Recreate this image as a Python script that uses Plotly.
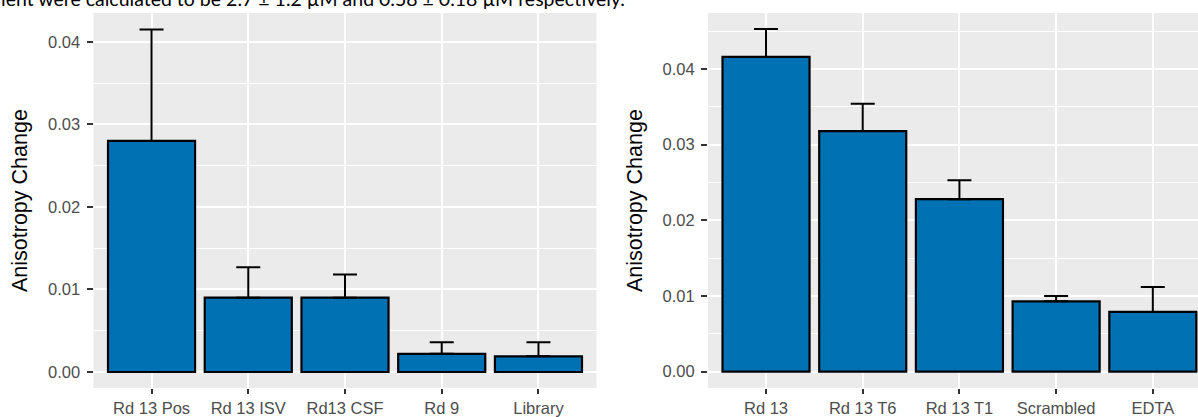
import plotly.graph_objects as go

W, H = 1198, 417

# ---- data ----
left_cats = ["Rd 13 Pos", "Rd 13 ISV", "Rd13 CSF", "Rd 9", "Library"]
left_vals = [0.0280, 0.0090, 0.0090, 0.0022, 0.0019]
left_err = [0.0135, 0.0037, 0.0028, 0.0014, 0.0017]

right_cats = ["Rd 13", "Rd 13 T6", "Rd 13 T1", "Scrambled", "EDTA"]
right_vals = [0.0416, 0.0318, 0.0228, 0.0093, 0.0079]
right_err = [0.0037, 0.0036, 0.0025, 0.0007, 0.0033]

y_ticks = [0.00, 0.01, 0.02, 0.03, 0.04]
y_title = "Anisotropy Change"
caption = "ient were calculated to be 2.7 ± 1.2 µM and 0.58 ± 0.18 µM respectively."

BAR = "#0071B2"
PANEL = "#EBEBEB"
FONT = "Liberation Sans"

fig = go.Figure()

def add_bars(cats, vals, errs, xa, ya):
    fig.add_trace(go.Bar(
        x=cats, y=vals, xaxis=xa, yaxis=ya, width=0.9,
        marker=dict(color=BAR, line=dict(color="black", width=2.2)),
        error_y=dict(type="data", array=errs, arrayminus=[0] * len(errs),
                     symmetric=False, color="black", thickness=2, width=12),
        showlegend=False, hoverinfo="x+y",
    ))

add_bars(left_cats, left_vals, left_err, "x", "y")
add_bars(right_cats, right_vals, right_err, "x2", "y2")

ydom = [1 - 388 / H, 1 - 13 / H]
common_x = dict(type="category", showgrid=True, gridcolor="white", gridwidth=2,
                ticks="outside", ticklen=5, tickwidth=2, tickcolor="#333333",
                tickfont=dict(family=FONT, size=16.5, color="#4D4D4D"),
                showline=False, zeroline=False)
common_y = dict(showgrid=True, gridcolor="white", gridwidth=2,
                tickvals=y_ticks, tickformat=".2f",
                ticks="outside", ticklen=6, tickwidth=2, tickcolor="#333333",
                ticklabelstandoff=3,
                tickfont=dict(family=FONT, size=16.5, color="#4D4D4D"),
                minor=dict(dtick=0.005, tick0=0, showgrid=True, gridcolor="white", gridwidth=1, ticks=""),
                showline=False, zeroline=False, domain=ydom)

fig.update_layout(
    width=W, height=H,
    margin=dict(l=0, r=0, t=0, b=0),
    paper_bgcolor="white", plot_bgcolor=PANEL,
    xaxis=dict(common_x, domain=[93.5 / W, 596.5 / W], range=[-0.6, 4.6], anchor="y"),
    yaxis=dict(common_y, range=[-0.00194, 0.0435], anchor="x"),
    xaxis2=dict(common_x, domain=[708 / W, 1.0], range=[-0.6, -0.6 + 490 / 96.7], anchor="y2"),
    yaxis2=dict(common_y, range=[-0.00216, 0.0474], anchor="x2"),
    font=dict(family=FONT),
)

annotations = [
    dict(text=y_title, xref="paper", yref="paper", x=20 / W, y=1 - 201 / H,
         xanchor="center", yanchor="middle", textangle=-90, showarrow=False,
         font=dict(family=FONT, size=21.5, color="black")),
    dict(text=y_title, xref="paper", yref="paper", x=635 / W, y=1 - 201 / H,
         xanchor="center", yanchor="middle", textangle=-90, showarrow=False,
         font=dict(family=FONT, size=21.5, color="black")),
    dict(text=caption, xref="paper", yref="paper", x=-1 / W, y=1 - 12 / H,
         xanchor="left", yanchor="bottom", showarrow=False,
         font=dict(family="Lato", size=19.5, color="black")),
]
fig.update_layout(annotations=annotations)

fig.write_html("out.html", config={"displayModeBar": False},
               post_script="document.body.style.margin='0';document.body.style.overflow='hidden';")
